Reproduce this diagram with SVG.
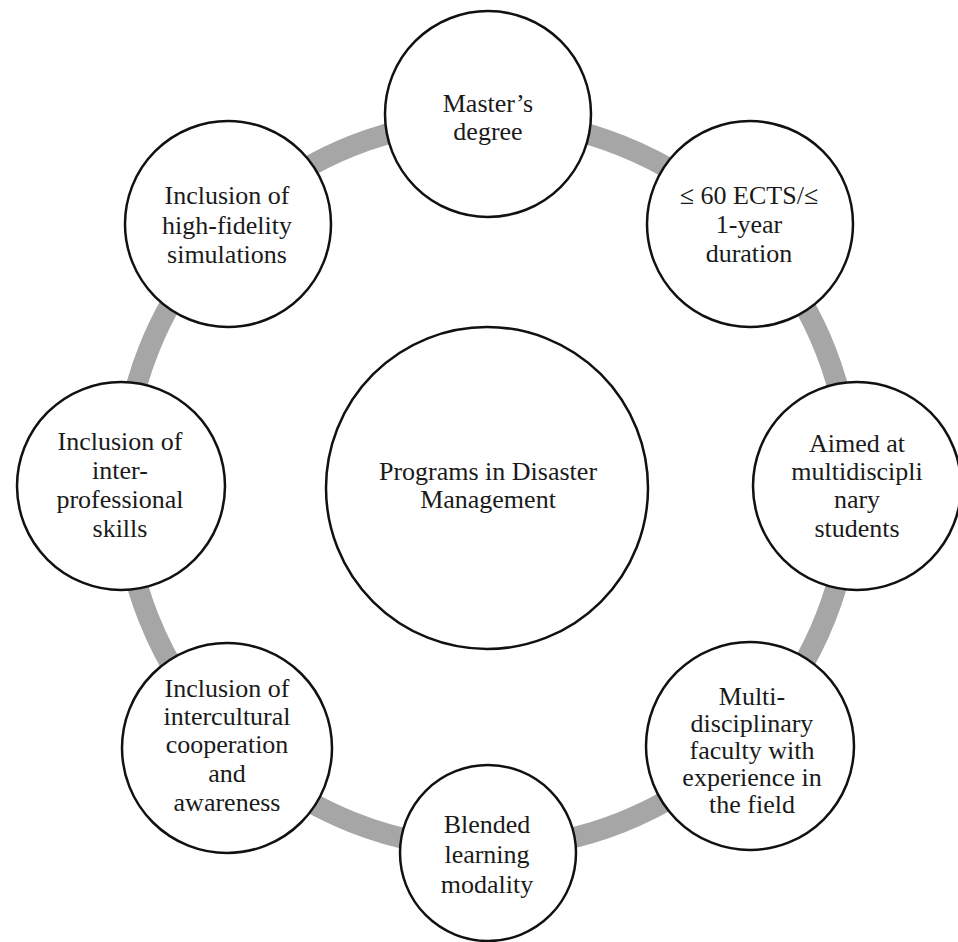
<svg xmlns="http://www.w3.org/2000/svg" width="958" height="942" viewBox="0 0 958 942">
<style>
.node{fill:#fff;stroke:#111;stroke-width:2.5}
.ring{fill:none;stroke:#a6a6a6;stroke-width:21}
text{font-family:"Liberation Serif","Times New Roman",serif;font-size:26px;fill:#1a1a1a;text-anchor:middle}
</style>
<rect width="958" height="942" fill="#fff"/>
<g id="connectors">
<circle class="ring" cx="487" cy="484" r="364"/>
</g>
<g id="center">
<circle class="node" cx="487" cy="488" r="161"/>
<text x="488" y="480">Programs in Disaster</text>
<text x="488" y="508">Management</text>
</g>
<g id="masters">
<circle class="node" cx="488" cy="114" r="103"/>
<text x="488" y="112">Master’s</text>
<text x="488" y="140">degree</text>
</g>
<g id="ects">
<circle class="node" cx="750" cy="224" r="103"/>
<text x="749" y="204">≤ 60 ECTS/≤</text>
<text x="749" y="233">1-year</text>
<text x="749" y="262">duration</text>
</g>
<g id="aimed">
<circle class="node" cx="857" cy="486" r="104"/>
<text x="857" y="452">Aimed at</text>
<text x="857" y="480">multidiscipli</text>
<text x="857" y="508">nary</text>
<text x="857" y="537">students</text>
</g>
<g id="faculty">
<circle class="node" cx="750" cy="746" r="104"/>
<text x="752" y="705">Multi-</text>
<text x="752" y="732">disciplinary</text>
<text x="752" y="759">faculty with</text>
<text x="752" y="786">experience in</text>
<text x="752" y="813">the field</text>
</g>
<g id="blended">
<circle class="node" cx="488" cy="853" r="88"/>
<text x="487" y="833">Blended</text>
<text x="487" y="863">learning</text>
<text x="487" y="893">modality</text>
</g>
<g id="intercultural">
<circle class="node" cx="227" cy="748" r="105"/>
<text x="227" y="697">Inclusion of</text>
<text x="227" y="725">intercultural</text>
<text x="227" y="753">cooperation</text>
<text x="227" y="782">and</text>
<text x="227" y="811">awareness</text>
</g>
<g id="interprofessional">
<circle class="node" cx="121" cy="486" r="104"/>
<text x="120" y="450">Inclusion of</text>
<text x="120" y="479">inter-</text>
<text x="120" y="508">professional</text>
<text x="120" y="537">skills</text>
</g>
<g id="simulations">
<circle class="node" cx="228" cy="224" r="103"/>
<text x="227" y="204">Inclusion of</text>
<text x="227" y="234">high-fidelity</text>
<text x="227" y="263">simulations</text>
</g>
</svg>
